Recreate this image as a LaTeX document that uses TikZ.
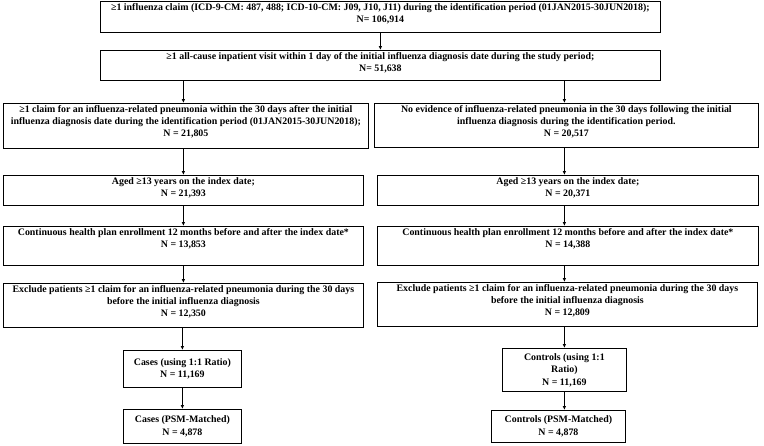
\documentclass[tikz,border=0pt]{standalone}
\usepackage{fontspec}
\setmainfont{Liberation Serif}
\usetikzlibrary{arrows.meta}
\newcommand\cnt[3]{\parbox[c][#2pt][t]{#1pt}{\centering\vspace*{2.2pt}#3}}
\begin{document}
\begin{tikzpicture}[x=1pt,y=-1pt,
  bx/.style={draw, line width=0.8pt, inner sep=0pt, anchor=north west,
    font=\fontsize{9.9}{12}\selectfont\bfseries},
  sbx/.style={draw, line width=0.8pt, inner sep=0pt, anchor=north west, align=center,
    font=\fontsize{9.9}{12.5}\selectfont\bfseries},
  arr/.style={line width=0.8pt, -{Latex[length=4pt,width=3.6pt]}}]
\useasboundingbox (0,0) rectangle (764,445);
% top
\node[bx] (t1) at (100,1) {\cnt{560}{31}{≥1 influenza claim (ICD-9-CM: 487, 488; ICD-10-CM: J09, J10, J11) during the identification period (01JAN2015-30JUN2018);\\N= 106,914}};
\node[bx] (t2) at (100,50) {\cnt{560}{30}{≥1 all-cause inpatient visit within 1 day of the initial influenza diagnosis date during the study period;\\N= 51,638}};
% left column
\node[bx] (l1) at (3,103) {\cnt{365}{45}{≥1 claim for an influenza-related pneumonia within the 30 days after the initial\\influenza diagnosis date during the identification period (01JAN2015-30JUN2018);\\N = 21,805}};
\node[bx] (l2) at (3,175) {\cnt{360}{30}{Aged ≥13 years on the index date;\\N = 21,393}};
\node[bx] (l3) at (3,226) {\cnt{360}{39}{Continuous health plan enrollment 12 months before and after the index date*\\N = 13,853}};
\node[bx] (l4) at (3,283) {\cnt{360}{44}{Exclude patients ≥1 claim for an influenza-related pneumonia during the 30 days\\before the initial influenza diagnosis\\N = 12,350}};
\node[sbx, minimum width=118, minimum height=37] (lc) at (123,350) {Cases (using 1:1 Ratio)\\N = 11,169};
\node[sbx, minimum width=118, minimum height=34] (lp) at (123,409) {Cases (PSM-Matched)\\N = 4,878};
% right column
\node[bx] (r1) at (374,103) {\cnt{384}{44}{No evidence of influenza-related pneumonia in the 30 days following the initial\\influenza diagnosis during the identification period.\\N = 20,517}};
\node[bx] (r2) at (377,175) {\cnt{381}{30}{Aged ≥13 years on the index date;\\N = 20,371}};
\node[bx] (r3) at (377,226) {\cnt{381}{39}{Continuous health plan enrollment 12 months before and after the index date*\\N = 14,388}};
\node[bx] (r4) at (377,282) {\cnt{380}{44}{Exclude patients ≥1 claim for an influenza-related pneumonia during the 30 days\\before the initial influenza diagnosis\\N = 12,809}};
\node[sbx, minimum width=124, minimum height=43] (rc) at (502,348) {Controls (using 1:1\\Ratio)\\N = 11,169};
\node[sbx, minimum width=134, minimum height=32] (rp) at (491,410) {Controls (PSM-Matched)\\N = 4,878};
% arrows
\draw[arr] (t1.south) -- (t2.north);
\draw[arr] (t2.south -| l2.north) -- (l1.north -| l2.north);
\draw[arr] (t2.south -| rc.north) -- (r1.north -| rc.north);
\draw[arr] (l1.south -| l2.north) -- (l2.north);
\draw[arr] (l2.south) -- (l3.north);
\draw[arr] (l3.south) -- (l4.north);
\draw[arr] (l4.south -| lc.north) -- (lc.north);
\draw[arr] (lc.south) -- (lp.north);
\draw[arr] (r1.south -| rc.north) -- (r2.north -| rc.north);
\draw[arr] (r2.south -| rc.north) -- (r3.north -| rc.north);
\draw[arr] (r3.south -| rc.north) -- (r4.north -| rc.north);
\draw[arr] (r4.south -| rc.north) -- (rc.north);
\draw[arr] (rc.south) -- (rc.south |- rp.north);
\end{tikzpicture}
\end{document}
